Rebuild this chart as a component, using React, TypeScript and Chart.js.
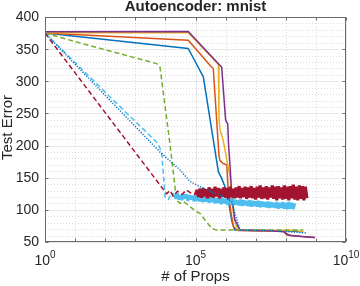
import { useEffect, useRef } from 'react';
import { Chart, registerables } from 'chart.js';

Chart.register(...registerables);

const FONT = "'Liberation Sans', Arial, Helvetica, sans-serif";
const TEXT = '#262626';

const TITLE = 'Autoencoder: mnist';
const X_TITLE = '# of Props';
const Y_TITLE = 'Test Error';
const Y_TICKS = [50, 100, 150, 200, 250, 300, 350, 400];
const X_TICK_EXPONENTS = [0, 5, 10];

// x positions are given as log10(# of props)
const BLUE_EXP = [0, 4.76, 5.26, 5.76, 5.87, 5.98, 6.09, 6.2, 6.3, 7.0, 8.0, 8.58];
const BLUE_VAL = [375, 351, 307, 159, 149, 136, 115, 84, 68.5, 67.5, 67.5, 66];

const ORANGE_EXP = [0, 4.76, 5.48, 5.59, 5.78, 5.81, 5.92, 6.04, 6.09, 6.18, 6.26, 6.4, 7.0, 7.92, 8.03, 8.5, 8.97];
const ORANGE_VAL = [375, 364, 325, 320, 185, 177, 172, 170, 128, 95, 74, 68, 67.5, 67, 61, 58.5, 57];

const YELLOW_EXP = [0, 4.76, 5.76, 5.78, 5.82, 5.92, 6.15, 6.26, 6.35, 6.48, 7.5, 8.3, 8.58];
const YELLOW_VAL = [375.5, 375.5, 326, 240, 224, 208, 151, 94, 75, 68.5, 68, 68, 66];

const PURPLE_EXP = [0, 4.76, 5.87, 6.0, 6.04, 6.07, 6.1, 6.15, 6.2, 6.3, 6.48, 7.5, 7.92, 8.14, 8.97];
const PURPLE_VAL = [377, 377.5, 322, 240, 236, 234, 200, 167, 126, 85, 68.5, 67.5, 66, 60, 57];

const GREEN_EXP = [0, 1.05, 3.71, 3.82, 4.15, 4.37, 4.49, 4.6, 4.82, 5.04, 5.15, 5.32, 5.54, 5.7, 7.0, 8.58];
const GREEN_VAL = [375, 361, 327.5, 322, 203, 115, 110, 113, 105, 97, 94.5, 84, 71, 68.5, 68.5, 68.5];

const BLUE_DOT_EXP = [0, 3.82, 4.49, 4.82, 5.26, 5.93, 6.2, 6.35, 6.48, 7.5, 8.69];
const BLUE_DOT_VAL = [375, 190, 162, 144, 133.5, 120.5, 113, 88, 68.5, 68, 64];

const LIGHT_LEAD_EXP = [0, 2.33, 3.76, 3.88, 3.99, 4.1, 4.2, 4.3];
const LIGHT_LEAD_VAL = [375, 268, 203, 188, 120, 116, 126, 124];

const LIGHT_BAND_EXP = [
  4.30, 4.35, 4.40, 4.45, 4.50, 4.55, 4.60, 4.65, 4.70, 4.75, 4.80, 4.85, 4.90, 4.95,
  5.00, 5.05, 5.10, 5.15, 5.20, 5.25, 5.30, 5.35, 5.40, 5.45, 5.50, 5.55, 5.60, 5.65,
  5.70, 5.75, 5.80, 5.85, 5.90, 5.95, 6.00, 6.05, 6.10, 6.15, 6.20, 6.25, 6.30, 6.35,
  6.40, 6.45, 6.50, 6.55, 6.60, 6.65, 6.70, 6.75, 6.80, 6.85, 6.90, 6.95, 7.00, 7.05,
  7.10, 7.15, 7.20, 7.25, 7.30, 7.35, 7.40, 7.45, 7.50, 7.55, 7.60, 7.65, 7.70, 7.75,
  7.80, 7.85, 7.90, 7.95, 8.00, 8.05, 8.10, 8.15, 8.20, 8.25, 8.30,
];
const LIGHT_BAND_VAL = [
  124, 117, 126, 116, 123, 115, 125, 117, 124, 114, 123, 116, 122, 113,
  123, 114, 121, 113, 122, 112, 120, 113, 121, 111, 120, 112, 119, 110,
  118, 111, 119, 109, 118, 110, 117, 108, 116, 109, 117, 107, 116, 108,
  115, 107, 116, 106, 115, 107, 114, 106, 115, 105, 114, 106, 113, 105,
  114, 104, 113, 105, 112, 104, 113, 103, 112, 104, 111, 103, 112, 102,
  111, 103, 112, 102, 111, 101, 112, 102, 111, 101, 110,
];

const RED_LEAD_EXP = [0, 4.04, 4.15, 4.26, 4.4, 4.55, 4.7, 4.85, 5.0];
const RED_LEAD_VAL = [375, 125, 130, 121, 129, 124, 131, 126, 124];

const RED_BAND_EXP = [
  5.00, 5.05, 5.10, 5.15, 5.20, 5.25, 5.30, 5.35, 5.40, 5.45, 5.50, 5.55, 5.60, 5.65,
  5.70, 5.75, 5.80, 5.85, 5.90, 5.95, 6.00, 6.05, 6.10, 6.15, 6.20, 6.25, 6.30, 6.35,
  6.40, 6.45, 6.50, 6.55, 6.60, 6.65, 6.70, 6.75, 6.80, 6.85, 6.90, 6.95, 7.00, 7.05,
  7.10, 7.15, 7.20, 7.25, 7.30, 7.35, 7.40, 7.45, 7.50, 7.55, 7.60, 7.65, 7.70, 7.75,
  7.80, 7.85, 7.90, 7.95, 8.00, 8.05, 8.10, 8.15, 8.20, 8.25, 8.30, 8.35, 8.40, 8.45,
  8.50, 8.55, 8.60, 8.65, 8.70,
];
const RED_BAND_VAL = [
  124, 131, 120, 133, 119, 134, 121, 132, 118, 135, 120, 133, 119, 136,
  121, 134, 118, 133, 120, 135, 119, 134, 117, 136, 120, 133, 118, 135,
  119, 137, 118, 134, 120, 136, 117, 135, 119, 137, 118, 134, 116, 136,
  119, 138, 117, 135, 118, 137, 116, 135, 119, 138, 117, 136, 115, 137,
  118, 135, 116, 138, 117, 136, 115, 137, 118, 139, 116, 136, 115, 138,
  117, 137, 115, 136, 118,
];

const pts = (exps: number[], vals: number[]) =>
  exps.map((e, i) => ({ x: Math.pow(10, e), y: vals[i] }));

const axesPlugin = {
  id: 'matlabAxes',
  beforeDatasetsDraw(chart: any) {
    const { ctx, chartArea: a, scales } = chart;
    const xs = scales.x;
    const ys = scales.y;
    ctx.save();
    ctx.lineWidth = 1;
    // minor y grid (dotted)
    ctx.strokeStyle = 'rgba(38,38,38,0.16)';
    ctx.setLineDash([1, 2]);
    for (let v = ys.min; v <= ys.max; v += 10) {
      if (Y_TICKS.includes(v)) continue;
      const y = Math.round(ys.getPixelForValue(v)) + 0.5;
      ctx.beginPath();
      ctx.moveTo(a.left, y);
      ctx.lineTo(a.right, y);
      ctx.stroke();
    }
    // minor x grid (each decade)
    for (let e = 1; e < 10; e++) {
      if (X_TICK_EXPONENTS.includes(e)) continue;
      const x = Math.round(xs.getPixelForValue(Math.pow(10, e))) + 0.5;
      ctx.beginPath();
      ctx.moveTo(x, a.top);
      ctx.lineTo(x, a.bottom);
      ctx.stroke();
    }
    // major grid
    ctx.setLineDash([]);
    ctx.strokeStyle = 'rgba(38,38,38,0.1)';
    for (const v of Y_TICKS) {
      const y = Math.round(ys.getPixelForValue(v)) + 0.5;
      ctx.beginPath();
      ctx.moveTo(a.left, y);
      ctx.lineTo(a.right, y);
      ctx.stroke();
    }
    for (const e of X_TICK_EXPONENTS) {
      const x = Math.round(xs.getPixelForValue(Math.pow(10, e))) + 0.5;
      ctx.beginPath();
      ctx.moveTo(x, a.top);
      ctx.lineTo(x, a.bottom);
      ctx.stroke();
    }
    ctx.restore();
  },
  afterDatasetsDraw(chart: any) {
    const { ctx, chartArea: a, scales } = chart;
    const xs = scales.x;
    const ys = scales.y;
    ctx.save();
    // box
    ctx.strokeStyle = '#6a6a6a';
    ctx.lineWidth = 1;
    ctx.setLineDash([]);
    const L = Math.round(a.left) + 0.5;
    const R = Math.round(a.right) - 0.5;
    const T = Math.round(a.top) + 0.5;
    const B = Math.round(a.bottom) - 0.5;
    ctx.strokeRect(L, T, R - L, B - T);
    // ticks
    ctx.beginPath();
    for (const v of Y_TICKS) {
      const y = Math.round(ys.getPixelForValue(v)) + 0.5;
      ctx.moveTo(L, y); ctx.lineTo(L + 3, y);
      ctx.moveTo(R, y); ctx.lineTo(R - 3, y);
    }
    for (let e = 0; e <= 10; e++) {
      const x = Math.round(xs.getPixelForValue(Math.pow(10, e))) + 0.5;
      ctx.moveTo(x, B); ctx.lineTo(x, B - 3);
      ctx.moveTo(x, T); ctx.lineTo(x, T + 3);
    }
    ctx.stroke();

    ctx.fillStyle = TEXT;
    // y tick labels
    ctx.font = `14px ${FONT}`;
    ctx.textAlign = 'right';
    ctx.textBaseline = 'middle';
    for (const v of Y_TICKS) {
      ctx.fillText(String(v), a.left - 6, ys.getPixelForValue(v) + 0.5);
    }
    // x tick labels 10^e
    ctx.textBaseline = 'alphabetic';
    ctx.textAlign = 'left';
    for (const e of X_TICK_EXPONENTS) {
      const px = xs.getPixelForValue(Math.pow(10, e));
      ctx.font = `14px ${FONT}`;
      const wb = ctx.measureText('10').width;
      ctx.font = `10px ${FONT}`;
      const we = ctx.measureText(String(e)).width;
      const x0 = px - (wb + we) / 2;
      ctx.font = `14px ${FONT}`;
      ctx.fillText('10', x0, a.bottom + 23);
      ctx.font = `10px ${FONT}`;
      ctx.fillText(String(e), x0 + wb, a.bottom + 15.5);
    }
    // axis titles
    ctx.font = `15px ${FONT}`;
    ctx.textAlign = 'center';
    ctx.fillText(X_TITLE, (a.left + a.right) / 2, a.bottom + 39);
    ctx.save();
    ctx.translate(12, (a.top + a.bottom) / 2 - 2);
    ctx.rotate(-Math.PI / 2);
    ctx.fillText(Y_TITLE, 0, 0);
    ctx.restore();
    // title
    ctx.font = `bold 15px ${FONT}`;
    ctx.fillText(TITLE, (a.left + a.right) / 2, 11);
    ctx.restore();
  },
};

export default function App() {
  const ref = useRef<HTMLCanvasElement | null>(null);
  useEffect(() => {
    if (!ref.current) return;
    const base = { pointRadius: 0, tension: 0, fill: false, borderWidth: 1.5, borderJoinStyle: 'round' as const };
    const chart = new Chart(ref.current, {
      type: 'line',
      data: {
        datasets: [
          { ...base, label: 'blue', data: pts(BLUE_EXP, BLUE_VAL), borderColor: '#0072BD', order: 9 },
          { ...base, label: 'orange', data: pts(ORANGE_EXP, ORANGE_VAL), borderColor: '#D95319', order: 8 },
          { ...base, label: 'yellow', data: pts(YELLOW_EXP, YELLOW_VAL), borderColor: '#EDB120', order: 7 },
          { ...base, label: 'purple', data: pts(PURPLE_EXP, PURPLE_VAL), borderColor: '#7E2F8E', order: 6 },
          { ...base, label: 'green', data: pts(GREEN_EXP, GREEN_VAL), borderColor: '#77AC30', borderDash: [5, 3], order: 5 },
          { ...base, label: 'lightblue', data: pts(LIGHT_LEAD_EXP, LIGHT_LEAD_VAL), borderColor: '#4DBEEE', borderDash: [5, 3], order: 4 },
          { ...base, label: 'lightblue band', data: pts(LIGHT_BAND_EXP, LIGHT_BAND_VAL), borderColor: '#4DBEEE', borderWidth: 2.8, borderJoinStyle: 'bevel', order: 4 },
          { ...base, label: 'darkred', data: pts(RED_LEAD_EXP, RED_LEAD_VAL), borderColor: '#A2142F', borderDash: [5, 3], order: 3 },
          { ...base, label: 'darkred band', data: pts(RED_BAND_EXP, RED_BAND_VAL), borderColor: '#A2142F', borderWidth: 3.2, borderJoinStyle: 'bevel', order: 3 },
          { ...base, label: 'blue dotted', data: pts(BLUE_DOT_EXP, BLUE_DOT_VAL), borderColor: '#0072BD', borderDash: [1.2, 1.5], order: 2 },
        ],
      },
      options: {
        animation: false,
        responsive: false,
        devicePixelRatio: 1,
        layout: { padding: { left: 45, top: 17, right: 14, bottom: 44 } },
        plugins: { legend: { display: false }, title: { display: false }, tooltip: { enabled: false } },
        events: [],
        scales: {
          x: { type: 'logarithmic', min: 1, max: 1e10, display: false },
          y: { type: 'linear', min: 50, max: 400, display: false },
        },
      },
      plugins: [axesPlugin],
    });
    return () => chart.destroy();
  }, []);
  return (
    <div style={{ position: 'fixed', left: 0, top: 0, width: 360, height: 286, background: '#fff' }}>
      <canvas ref={ref} width={360} height={286} style={{ display: 'block', width: 360, height: 286 }} />
    </div>
  );
}
